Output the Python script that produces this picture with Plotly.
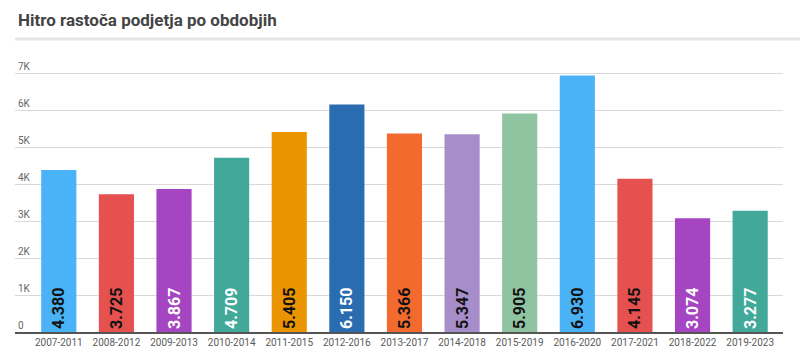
import plotly.graph_objects as go

categories = ["2007-2011", "2008-2012", "2009-2013", "2010-2014", "2011-2015", "2012-2016",
              "2013-2017", "2014-2018", "2015-2019", "2016-2020", "2017-2021", "2018-2022", "2019-2023"]
values = [4380, 3725, 3867, 4709, 5405, 6150, 5366, 5347, 5905, 6930, 4145, 3074, 3277]
bar_colors = ["#4ab3f7", "#e5514f", "#a545c1", "#41a89a", "#ea9400", "#2a6cb0", "#f26a2e",
              "#a78ecb", "#90c4a1", "#4ab3f7", "#e5514f", "#a545c1", "#41a89a"]
label_colors = ["#111", "#111", "#fff", "#fff", "#111", "#fff", "#111",
                "#111", "#111", "#111", "#111", "#fff", "#fff"]
y_tickvals = [0, 1000, 2000, 3000, 4000, 5000, 6000, 7000]
y_ticktext = ["0", "1K", "2K", "3K", "4K", "5K", "6K", "7K"]
title = "Hitro rastoča podjetja po obdobjih"

T, B = 59, 25
PLOT_H = 357 - T - B          # 273 px
Y_TOP = PLOT_H / 37.0 * 1000  # 37 px per 1K

fig = go.Figure(go.Bar(
    x=categories, y=values,
    marker=dict(color=bar_colors, line=dict(width=0)),
    texttemplate="%{y:,}",
    textposition="inside",
    insidetextanchor="start",
    textangle=-90,
    textfont=dict(family="Roboto", size=16, color=label_colors, weight="bold"),
    cliponaxis=False,
))

fig.update_layout(
    width=800, height=357,
    margin=dict(l=15, r=17, t=T, b=B, autoexpand=False),
    paper_bgcolor="white", plot_bgcolor="white",
    separators=",.",
    bargap=0.39,
    showlegend=False,
    font=dict(family="Roboto", color="#555"),
    xaxis=dict(
        range=[-0.76, 12.57], automargin=False,
        showline=True, linecolor="#555", linewidth=1.5,
        ticks="", tickfont=dict(size=10, color="#5a5a5a"),
        showgrid=False, fixedrange=True,
    ),
    yaxis=dict(
        range=[0, Y_TOP], automargin=False,
        tickvals=y_tickvals, ticktext=y_ticktext,
        ticklabelposition="inside", ticklabelshift=-7,
        tickfont=dict(size=10, color="#666"),
        showgrid=True, gridcolor="#d9d9d9", gridwidth=1,
        zeroline=False, showline=False, ticks="",
    ),
    annotations=[dict(
        text="<b>" + title + "</b>", xref="paper", yref="paper",
        x=0.0, y=1, xanchor="left", yanchor="bottom",
        xshift=1, yshift=27, showarrow=False,
        font=dict(family="Roboto", size=17, color="#444"),
    )],
    shapes=[dict(
        type="line", xref="paper", yref="paper", x0=0.0, x1=1.03,
        y0=1 + 20 / PLOT_H, y1=1 + 20 / PLOT_H,
        line=dict(color="#e6e6e6", width=3),
    )],
)

fig.write_html("out.html", config={"displayModeBar": False},
               post_script="document.body.style.margin='0';")
